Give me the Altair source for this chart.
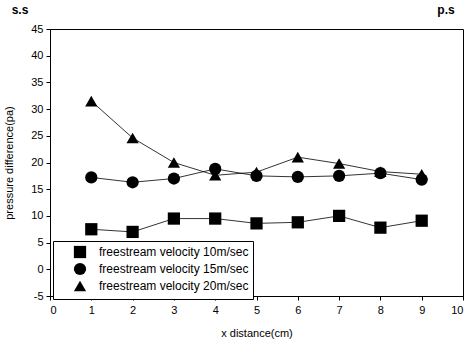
import altair as alt
import pandas as pd

x_vals = [1, 2, 3, 4, 5, 6, 7, 8, 9]
v10 = [7.5, 7.0, 9.5, 9.5, 8.6, 8.8, 10.0, 7.8, 9.1]
v15 = [17.2, 16.3, 17.0, 18.8, 17.5, 17.3, 17.5, 18.0, 16.8]
v20 = [31.5, 24.6, 20.0, 17.6, 18.2, 21.0, 19.8, 18.3, 17.8]
series_names = ["freestream velocity 10m/sec", "freestream velocity 15m/sec", "freestream velocity 20m/sec"]

rows = []
for name, vals in zip(series_names, [v10, v15, v20]):
    for xv, yv in zip(x_vals, vals):
        rows.append({"x": xv, "y": yv, "series": name})
df = pd.DataFrame(rows)

FONT = "Liberation Sans"

xs = alt.Scale(domain=[0, 10], nice=False)
ys = alt.Scale(domain=[-5, 45], nice=False)

xenc = alt.X("x:Q", scale=xs, title="x distance(cm)",
             axis=alt.Axis(values=list(range(0, 11)), grid=False, domainColor="black",
                           tickColor="black", labelColor="black", labelFont=FONT, labelFontSize=11,
                           titleFont=FONT, titleFontSize=11, titleFontWeight="normal",
                           titleColor="black", labelPadding=4, titlePadding=12, tickSize=4,
                           labelExpr="'' + datum.value"))
yenc = alt.Y("y:Q", scale=ys, title="pressure difference(pa)",
             axis=alt.Axis(values=list(range(-5, 50, 5)), grid=False, domainColor="black",
                           tickColor="black", labelColor="black", labelFont=FONT, labelFontSize=11,
                           titleFont=FONT, titleFontSize=11, titleFontWeight="normal",
                           titleColor="black", labelPadding=3, titlePadding=16, tickSize=4,
                           labelExpr="'' + datum.value"))

lines = alt.Chart(df).mark_line(color="black", strokeWidth=0.8).encode(
    x=xenc, y=yenc, detail="series:N")

points = alt.Chart(df).mark_point(filled=True, color="black", opacity=1, size=150).encode(
    x=xenc, y=yenc,
    shape=alt.Shape("series:N",
                    scale=alt.Scale(domain=series_names, range=["square", "circle", "triangle-up"]),
                    legend=alt.Legend(title=None, orient="none", legendX=3, legendY=212,
                                      strokeColor="black", fillColor="white", padding=4,
                                      labelFont=FONT, labelFontSize=12, labelColor="black",
                                      symbolFillColor="black", symbolStrokeColor="black",
                                      symbolSize=150, rowPadding=-6, labelLimit=300,
                                      symbolOffset=16, labelOffset=12)))

ann = pd.DataFrame({"t": ["s.s"]})
ss = alt.Chart(ann).mark_text(font=FONT, fontSize=12, fontWeight="bold", color="black").encode(
    text="t:N", x=alt.value(-30), y=alt.value(-19))
ann2 = pd.DataFrame({"t": ["p.s"]})
ps = alt.Chart(ann2).mark_text(font=FONT, fontSize=12, fontWeight="bold", color="black").encode(
    text="t:N", x=alt.value(396), y=alt.value(-19))

chart = alt.layer(lines, points, ss, ps).properties(
    width=413, height=267,
    padding={"left": 50, "top": 29, "right": 11, "bottom": 49},
    autosize=alt.AutoSizeParams(type="none"),
    background="white",
).configure_view(stroke="black", strokeWidth=1)

chart.save("out.html", embed_options={"renderer": "svg", "actions": False})
